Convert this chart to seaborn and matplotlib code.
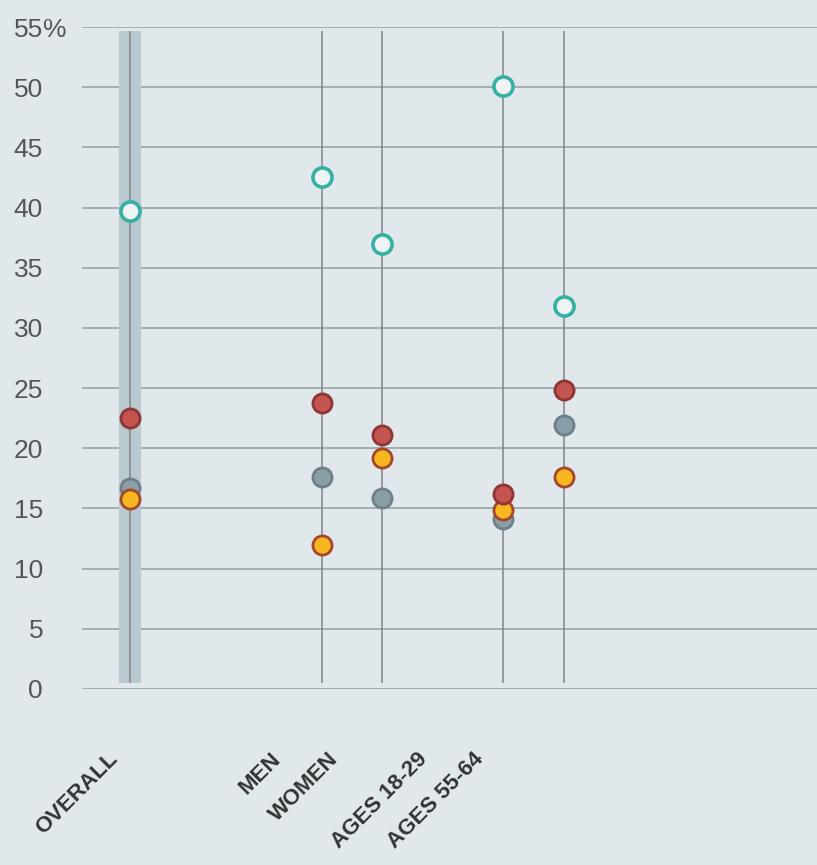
import numpy as np
import pandas as pd
import seaborn as sns
import matplotlib.pyplot as plt

categories = ["OVERALL", "MEN", "WOMEN", "AGES 18-29", "AGES 55-64"]
teal_vals = [39.7, 42.5, 37.0, 50.1, 31.8]
red_vals = [22.5, 23.8, 21.1, 16.2, 24.8]
gray_vals = [16.7, 17.6, 15.9, 14.1, 21.9]
yellow_vals = [15.8, 12.0, 19.2, 14.9, 17.6]
yticks = [0, 5, 10, 15, 20, 25, 30, 35, 40, 45, 50, 55]

# layout: horizontal slot of each category
positions = [0, 3.17, 4.17, 6.17, 7.17]
label_dx = [-8, -37, -40, -71, -76]  # px offset of label top-right corner

bg = "#e1e8eb"
sns.set_theme(style="white")
plt.rcParams["font.family"] = ["Liberation Sans", "DejaVu Sans"]

df = pd.DataFrame({"pos": positions, "cat": categories,
                   "teal": teal_vals, "red": red_vals,
                   "gray": gray_vals, "yellow": yellow_vals})

fig = plt.figure(figsize=(8.17, 8.65), dpi=100, facecolor=bg)
ax = fig.add_axes([82 / 817, (865 - 689) / 865, (817 - 82) / 817, (689 - 27) / 865])
ax.set_facecolor(bg)

ax.set_ylim(0, 55)
ax.set_xlim(-0.793, 11.36)
ax.set_yticks(yticks)
ax.set_yticklabels([str(v) for v in yticks], fontsize=19, color="#555555")
ax.tick_params(axis="y", length=0, pad=28)
ax.set_xticks([])
for s in ax.spines.values():
    s.set_visible(False)
ax.grid(axis="y", color="#959da1", lw=1.1, zorder=0)
ax.set_axisbelow(True)
ax.annotate("%", xy=(0, 55), xycoords=("axes fraction", "data"),
            xytext=(-28, 0), textcoords="offset points", ha="left",
            va="center_baseline", fontsize=19, color="#555555")

# highlighted band for overall
ax.vlines(df["pos"][:1], 0.5, 54.7, color="#bac9cf", lw=16, zorder=1)
ax.vlines(df["pos"], 0.5, 54.7, color="#7d868b", lw=1.1, zorder=2)

ms = 190
sns.scatterplot(data=df, x="pos", y="teal", ax=ax, s=ms, color="#eef4f4",
                edgecolor="#36b0a3", linewidth=2.6, zorder=5, clip_on=False)
sns.scatterplot(data=df, x="pos", y="gray", ax=ax, s=ms, color="#8a9ea8",
                edgecolor="#6d7f88", linewidth=2.0, zorder=5)
sns.scatterplot(data=df, x="pos", y="yellow", ax=ax, s=ms, color="#f6b81e",
                edgecolor="#a5472c", linewidth=2.0, zorder=6)
sns.scatterplot(data=df, x="pos", y="red", ax=ax, s=ms, color="#c4544f",
                edgecolor="#8e3535", linewidth=2.0, zorder=7)
ax.set_xlabel("")
ax.set_ylabel("")

for p, lab, dx in zip(positions, categories, label_dx):
    ax.annotate(lab, xy=(p, 0), xycoords=("data", "axes fraction"),
                xytext=(dx * 0.72, -43), textcoords="offset points",
                ha="right", va="top", rotation=45, fontsize=16,
                fontweight="bold", color="#333333")

plt.savefig("out.png", dpi=100, facecolor=bg)
